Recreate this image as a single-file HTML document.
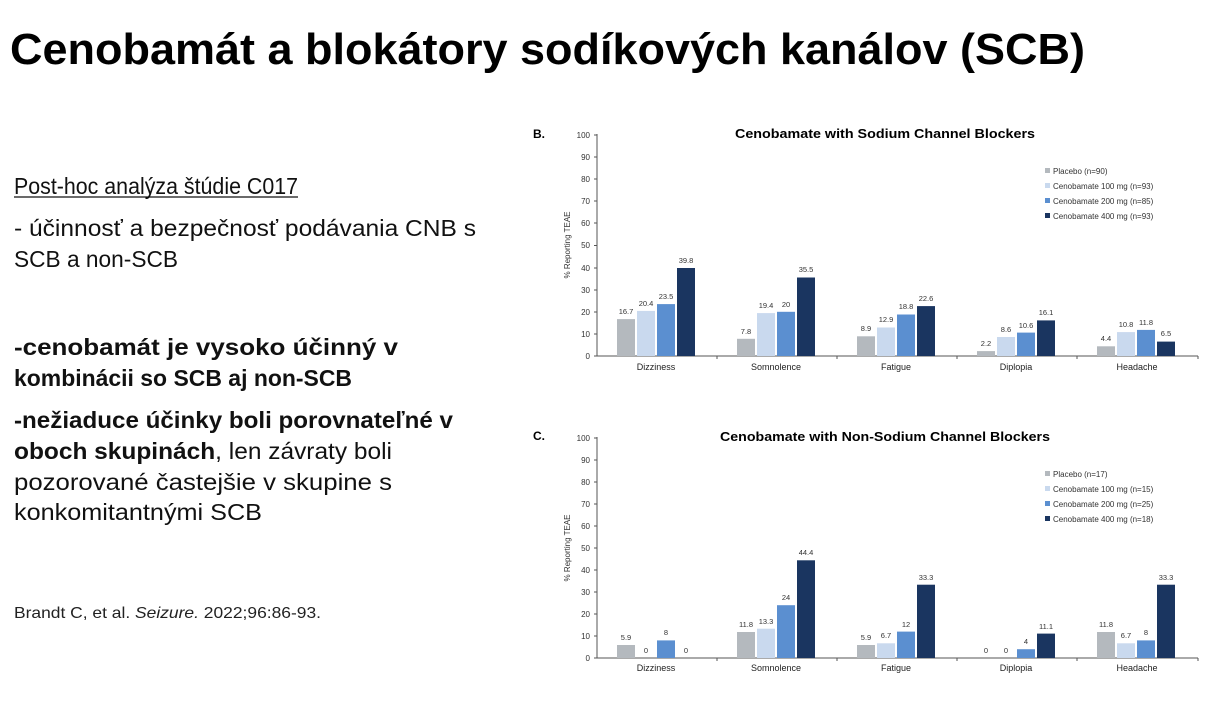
<!DOCTYPE html>
<html><head><meta charset="utf-8"><style>
html,body{margin:0;padding:0;background:#fff;}
svg{display:block}
</style></head><body>
<svg width="1216" height="714" viewBox="0 0 1216 714" xmlns="http://www.w3.org/2000/svg" font-family="Liberation Sans, sans-serif">
<rect width="1216" height="714" fill="#fff"/>
<text x="10" y="64" font-size="44" font-weight="bold" textLength="1075" lengthAdjust="spacingAndGlyphs">Cenobamát a blokátory sodíkových kanálov (SCB)</text>

<g font-size="23" fill="#111">
<text x="14" y="194" textLength="284" lengthAdjust="spacingAndGlyphs">Post-hoc analýza štúdie C017</text>
<line x1="14" y1="197" x2="298" y2="197" stroke="#111" stroke-width="1.3"/>
<text x="14" y="236" textLength="462" lengthAdjust="spacingAndGlyphs">- účinnosť a bezpečnosť podávania CNB s</text>
<text x="14" y="267" textLength="164" lengthAdjust="spacingAndGlyphs">SCB a non-SCB</text>
<text x="14" y="355" font-weight="bold" textLength="384" lengthAdjust="spacingAndGlyphs">-cenobamát je vysoko účinný v</text>
<text x="14" y="386" font-weight="bold" textLength="338" lengthAdjust="spacingAndGlyphs">kombinácii so SCB aj non-SCB</text>
<text x="14" y="428" font-weight="bold" textLength="439" lengthAdjust="spacingAndGlyphs">-nežiaduce účinky boli porovnateľné v</text>
<text x="14" y="459" textLength="378" lengthAdjust="spacingAndGlyphs"><tspan font-weight="bold">oboch skupinách</tspan>, len závraty boli</text>
<text x="14" y="490" textLength="378" lengthAdjust="spacingAndGlyphs">pozorované častejšie v skupine s</text>
<text x="14" y="520" textLength="248" lengthAdjust="spacingAndGlyphs">konkomitantnými SCB</text>
</g>
<text x="14" y="618" font-size="16" fill="#222" textLength="307" lengthAdjust="spacingAndGlyphs">Brandt C, et al. <tspan font-style="italic">Seizure.</tspan> 2022;96:86-93.</text>

<!-- Chart B -->
<g>
<text x="533" y="138" font-size="12" font-weight="bold">B.</text>
<text x="885" y="138" font-size="13" font-weight="bold" text-anchor="middle" textLength="300" lengthAdjust="spacingAndGlyphs">Cenobamate with Sodium Channel Blockers</text>
<line x1="597" y1="134" x2="597" y2="356" stroke="#555" stroke-width="1"/>
<line x1="597" y1="356" x2="1198" y2="356" stroke="#555" stroke-width="1"/>
<g stroke="#555"><line x1="594" y1="135" x2="597" y2="135"/><line x1="594" y1="157" x2="597" y2="157"/><line x1="594" y1="179" x2="597" y2="179"/><line x1="594" y1="201" x2="597" y2="201"/><line x1="594" y1="223" x2="597" y2="223"/><line x1="594" y1="245.5" x2="597" y2="245.5"/><line x1="594" y1="268" x2="597" y2="268"/><line x1="594" y1="290" x2="597" y2="290"/><line x1="594" y1="312" x2="597" y2="312"/><line x1="594" y1="334" x2="597" y2="334"/><line x1="594" y1="356" x2="597" y2="356"/>
<line x1="717" y1="356" x2="717" y2="359"/><line x1="837" y1="356" x2="837" y2="359"/><line x1="957" y1="356" x2="957" y2="359"/><line x1="1077" y1="356" x2="1077" y2="359"/><line x1="1198" y1="356" x2="1198" y2="359"/></g>
<g font-size="8" text-anchor="end" fill="#333"><text x="590" y="138">100</text><text x="590" y="160">90</text><text x="590" y="182">80</text><text x="590" y="204">70</text><text x="590" y="226">60</text><text x="590" y="248">50</text><text x="590" y="271">40</text><text x="590" y="293">30</text><text x="590" y="315">20</text><text x="590" y="337">10</text><text x="590" y="359">0</text></g>
<text transform="translate(570,245) rotate(-90)" font-size="8" text-anchor="middle" fill="#333">% Reporting TEAE</text>
<g font-size="8" fill="#333"><rect x="1045" y="168" width="5" height="5" fill="#b4b9be"/><text x="1053" y="174">Placebo (n=90)</text>
<rect x="1045" y="183" width="5" height="5" fill="#c9d9ee"/><text x="1053" y="189">Cenobamate 100 mg (n=93)</text>
<rect x="1045" y="198" width="5" height="5" fill="#5b8fd0"/><text x="1053" y="204">Cenobamate 200 mg (n=85)</text>
<rect x="1045" y="213" width="5" height="5" fill="#1a3560"/><text x="1053" y="219">Cenobamate 400 mg (n=93)</text></g>
<g>
<rect x="617" y="319.1" width="18" height="36.9" fill="#b4b9be"/><rect x="637" y="310.9" width="18" height="45.1" fill="#c9d9ee"/><rect x="657" y="304.1" width="18" height="51.9" fill="#5b8fd0"/><rect x="677" y="268" width="18" height="88" fill="#1a3560"/>
<rect x="737" y="338.8" width="18" height="17.2" fill="#b4b9be"/><rect x="757" y="313.1" width="18" height="42.9" fill="#c9d9ee"/><rect x="777" y="311.8" width="18" height="44.2" fill="#5b8fd0"/><rect x="797" y="277.5" width="18" height="78.5" fill="#1a3560"/>
<rect x="857" y="336.3" width="18" height="19.7" fill="#b4b9be"/><rect x="877" y="327.5" width="18" height="28.5" fill="#c9d9ee"/><rect x="897" y="314.5" width="18" height="41.5" fill="#5b8fd0"/><rect x="917" y="306.1" width="18" height="49.9" fill="#1a3560"/>
<rect x="977" y="351.1" width="18" height="4.9" fill="#b4b9be"/><rect x="997" y="337" width="18" height="19" fill="#c9d9ee"/><rect x="1017" y="332.6" width="18" height="23.4" fill="#5b8fd0"/><rect x="1037" y="320.4" width="18" height="35.6" fill="#1a3560"/>
<rect x="1097" y="346.3" width="18" height="9.7" fill="#b4b9be"/><rect x="1117" y="332.1" width="18" height="23.9" fill="#c9d9ee"/><rect x="1137" y="329.9" width="18" height="26.1" fill="#5b8fd0"/><rect x="1157" y="341.6" width="18" height="14.4" fill="#1a3560"/>
</g>
<g font-size="7.5" text-anchor="middle" fill="#333">
<text x="626" y="314">16.7</text><text x="646" y="306">20.4</text><text x="666" y="299">23.5</text><text x="686" y="263">39.8</text>
<text x="746" y="334">7.8</text><text x="766" y="308">19.4</text><text x="786" y="307">20</text><text x="806" y="272">35.5</text>
<text x="866" y="331">8.9</text><text x="886" y="322">12.9</text><text x="906" y="309">18.8</text><text x="926" y="301">22.6</text>
<text x="986" y="346">2.2</text><text x="1006" y="332">8.6</text><text x="1026" y="328">10.6</text><text x="1046" y="315">16.1</text>
<text x="1106" y="341">4.4</text><text x="1126" y="327">10.8</text><text x="1146" y="325">11.8</text><text x="1166" y="336">6.5</text>
</g>
<g font-size="9" text-anchor="middle" fill="#222"><text x="656" y="370">Dizziness</text><text x="776" y="370">Somnolence</text><text x="896" y="370">Fatigue</text><text x="1016" y="370">Diplopia</text><text x="1137" y="370">Headache</text></g>
</g>

<!-- Chart C -->
<g>
<text x="533" y="440" font-size="12" font-weight="bold">C.</text>
<text x="885" y="441" font-size="13" font-weight="bold" text-anchor="middle" textLength="330" lengthAdjust="spacingAndGlyphs">Cenobamate with Non-Sodium Channel Blockers</text>
<line x1="597" y1="437" x2="597" y2="658" stroke="#555" stroke-width="1"/>
<line x1="597" y1="658" x2="1198" y2="658" stroke="#555" stroke-width="1"/>
<g stroke="#555"><line x1="594" y1="438" x2="597" y2="438"/><line x1="594" y1="460" x2="597" y2="460"/><line x1="594" y1="482" x2="597" y2="482"/><line x1="594" y1="504" x2="597" y2="504"/><line x1="594" y1="526" x2="597" y2="526"/><line x1="594" y1="548" x2="597" y2="548"/><line x1="594" y1="570" x2="597" y2="570"/><line x1="594" y1="592" x2="597" y2="592"/><line x1="594" y1="614" x2="597" y2="614"/><line x1="594" y1="636" x2="597" y2="636"/><line x1="594" y1="658" x2="597" y2="658"/>
<line x1="717" y1="658" x2="717" y2="661"/><line x1="837" y1="658" x2="837" y2="661"/><line x1="957" y1="658" x2="957" y2="661"/><line x1="1077" y1="658" x2="1077" y2="661"/><line x1="1198" y1="658" x2="1198" y2="661"/></g>
<g font-size="8" text-anchor="end" fill="#333"><text x="590" y="441">100</text><text x="590" y="463">90</text><text x="590" y="485">80</text><text x="590" y="507">70</text><text x="590" y="529">60</text><text x="590" y="551">50</text><text x="590" y="573">40</text><text x="590" y="595">30</text><text x="590" y="617">20</text><text x="590" y="639">10</text><text x="590" y="661">0</text></g>
<text transform="translate(570,548) rotate(-90)" font-size="8" text-anchor="middle" fill="#333">% Reporting TEAE</text>
<g font-size="8" fill="#333"><rect x="1045" y="471" width="5" height="5" fill="#b4b9be"/><text x="1053" y="477">Placebo (n=17)</text>
<rect x="1045" y="486" width="5" height="5" fill="#c9d9ee"/><text x="1053" y="492">Cenobamate 100 mg (n=15)</text>
<rect x="1045" y="501" width="5" height="5" fill="#5b8fd0"/><text x="1053" y="507">Cenobamate 200 mg (n=25)</text>
<rect x="1045" y="516" width="5" height="5" fill="#1a3560"/><text x="1053" y="522">Cenobamate 400 mg (n=18)</text></g>
<g>
<rect x="617" y="645" width="18" height="13" fill="#b4b9be"/><rect x="657" y="640.4" width="18" height="17.6" fill="#5b8fd0"/>
<rect x="737" y="632" width="18" height="26" fill="#b4b9be"/><rect x="757" y="628.7" width="18" height="29.3" fill="#c9d9ee"/><rect x="777" y="605.2" width="18" height="52.8" fill="#5b8fd0"/><rect x="797" y="560.3" width="18" height="97.7" fill="#1a3560"/>
<rect x="857" y="645" width="18" height="13" fill="#b4b9be"/><rect x="877" y="643.3" width="18" height="14.7" fill="#c9d9ee"/><rect x="897" y="631.6" width="18" height="26.4" fill="#5b8fd0"/><rect x="917" y="584.7" width="18" height="73.3" fill="#1a3560"/>
<rect x="1017" y="649.2" width="18" height="8.8" fill="#5b8fd0"/><rect x="1037" y="633.6" width="18" height="24.4" fill="#1a3560"/>
<rect x="1097" y="632" width="18" height="26" fill="#b4b9be"/><rect x="1117" y="643.3" width="18" height="14.7" fill="#c9d9ee"/><rect x="1137" y="640.4" width="18" height="17.6" fill="#5b8fd0"/><rect x="1157" y="584.7" width="18" height="73.3" fill="#1a3560"/>
</g>
<g font-size="7.5" text-anchor="middle" fill="#333">
<text x="626" y="640">5.9</text><text x="646" y="653">0</text><text x="666" y="635">8</text><text x="686" y="653">0</text>
<text x="746" y="627">11.8</text><text x="766" y="624">13.3</text><text x="786" y="600">24</text><text x="806" y="555">44.4</text>
<text x="866" y="640">5.9</text><text x="886" y="638">6.7</text><text x="906" y="627">12</text><text x="926" y="580">33.3</text>
<text x="986" y="653">0</text><text x="1006" y="653">0</text><text x="1026" y="644">4</text><text x="1046" y="629">11.1</text>
<text x="1106" y="627">11.8</text><text x="1126" y="638">6.7</text><text x="1146" y="635">8</text><text x="1166" y="580">33.3</text>
</g>
<g font-size="9" text-anchor="middle" fill="#222"><text x="656" y="671">Dizziness</text><text x="776" y="671">Somnolence</text><text x="896" y="671">Fatigue</text><text x="1016" y="671">Diplopia</text><text x="1137" y="671">Headache</text></g>
</g>
</svg>
</body></html>
